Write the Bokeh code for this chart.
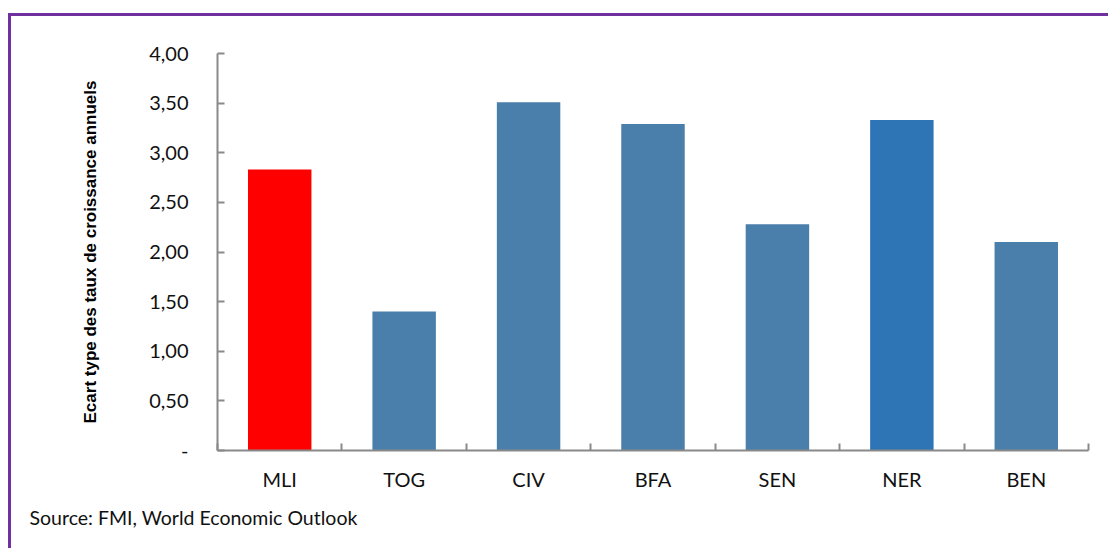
from bokeh.plotting import figure
from bokeh.models import (LinearAxis, FixedTicker, Range1d, Title, ColumnDataSource)
from bokeh.embed import file_html
from bokeh.resources import INLINE

# ---- data ----
countries = ["MLI", "TOG", "CIV", "BFA", "SEN", "NER", "BEN"]
ecart_type = [2.83, 1.40, 3.51, 3.29, 2.28, 3.33, 2.10]
bar_colors = ["#FF0000", "#4A7EAB", "#4A7EAB", "#4A7EAB", "#4A7EAB", "#2E75B6", "#4A7EAB"]
y_ticks = [0, 0.5, 1.0, 1.5, 2.0, 2.5, 3.0, 3.5, 4.0]
y_tick_labels = ["-", "0,50", "1,00", "1,50", "2,00", "2,50", "3,00", "3,50", "4,00"]
y_title = "Ecart type des taux de croissance annuels"
source_note = "Source: FMI, World Economic Outlook"

AXIS_GREY = "#898989"
FONT = "Lato"
PURPLE = "#7030A0"

p = figure(width=1100, height=535, x_range=countries, y_range=Range1d(0, 4),
           x_axis_type=None, y_axis_type=None, title=None,
           output_backend="svg", toolbar_location=None,
           min_border_left=206, min_border_right=23, min_border_top=37, min_border_bottom=101)
p.outline_line_color = None
p.xgrid.visible = False
p.ygrid.visible = False
p.background_fill_color = "white"
p.border_fill_color = "white"
p.margin = (13, 0, 0, 8)
p.styles = {"border-left": f"3px solid {PURPLE}", "border-top": f"3px solid {PURPLE}"}

src = ColumnDataSource(dict(x=countries, top=ecart_type, color=bar_colors))
p.vbar(x="x", top="top", bottom=0, width=0.51, fill_color="color", line_color=None, source=src)

# y axis
yax = LinearAxis(ticker=FixedTicker(ticks=y_ticks, minor_ticks=[]))
yax.major_label_overrides = {t: l for t, l in zip(y_ticks, y_tick_labels)}
yax.axis_line_color = AXIS_GREY
yax.axis_line_width = 2
yax.major_tick_line_color = AXIS_GREY
yax.major_tick_line_width = 2
yax.major_tick_in = 7
yax.major_tick_out = 0
yax.minor_tick_line_color = None
yax.major_label_standoff = 29
yax.major_label_text_font = FONT
yax.major_label_text_font_size = "20px"
yax.major_label_text_color = "#111111"
yax.axis_label = y_title
yax.axis_label_text_font = "Liberation Sans"
yax.axis_label_text_font_style = "bold"
yax.axis_label_text_font_size = "17px"
yax.axis_label_text_color = "#000000"
yax.axis_label_standoff = 46
p.add_layout(yax, "left")

# x axis: labels at category centers, tick marks at category boundaries
n = len(countries)
centers = [i + 0.5 for i in range(n)]
bounds = list(range(n + 1))
xax = LinearAxis(ticker=FixedTicker(ticks=centers, minor_ticks=bounds))
xax.major_label_overrides = {c: name for c, name in zip(centers, countries)}
xax.axis_line_color = AXIS_GREY
xax.axis_line_width = 2
xax.major_tick_line_color = None
xax.minor_tick_line_color = AXIS_GREY
xax.minor_tick_line_width = 2
xax.minor_tick_in = 7
xax.minor_tick_out = 0
xax.major_label_standoff = 10
xax.major_label_text_font = FONT
xax.major_label_text_font_size = "20px"
xax.major_label_text_color = "#111111"
p.add_layout(xax, "below")

# source note
p.add_layout(Title(text=source_note, align="left", offset=-188, standoff=20,
                   text_font=FONT, text_font_size="19.5px", text_font_style="normal",
                   text_color="#111111"), "below")

open("out.html", "w").write(file_html(p, INLINE))
